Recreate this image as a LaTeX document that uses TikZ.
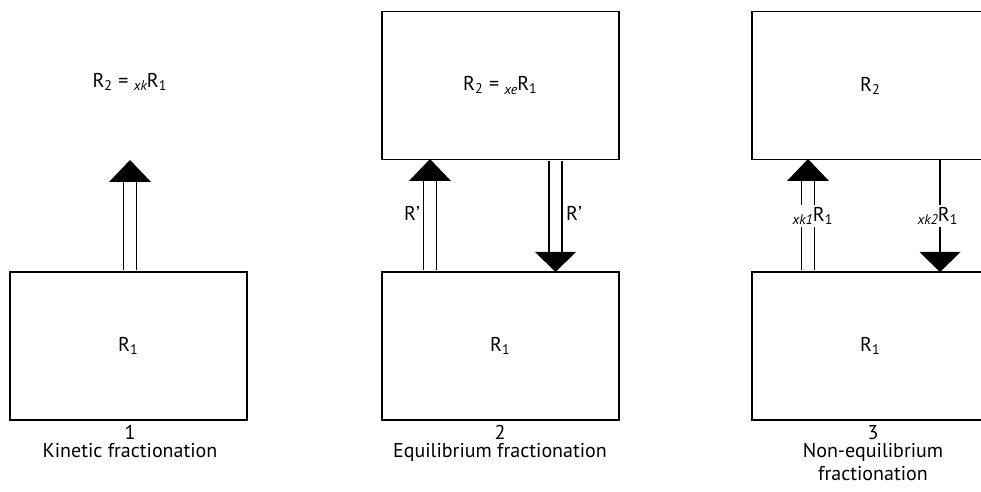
\documentclass[tikz,border=0pt]{standalone}
\usepackage{fontspec}
\setmainfont{PT Sans}
\usepackage{tikz}

% small prefix before a ratio
\newcommand\fpre[1]{\raisebox{-0.35ex}{\scriptsize\itshape #1}}

\begin{document}
\begin{tikzpicture}[x=0.5pt,y=-0.5pt,
  box/.style={draw,line width=0.8pt,minimum width=118.5pt,minimum height=74pt,inner sep=0pt,font=\fontsize{10}{12}\selectfont},
  shaft/.style={double,double distance=5.8pt,line width=0.75pt,shorten <=0.4pt},
  rate/.style={fill=white,inner sep=1pt,font=\fontsize{10}{12}\selectfont},
  numtext/.style={inner sep=0pt,anchor=base,font=\fontsize{10}{12}\selectfont},
  captext/.style={align=center,inner sep=0pt,font=\fontsize{10}{12}\selectfont}]
\useasboundingbox (0,0) rectangle (981,492);
\clip (0,0) rectangle (981,492);

% panel 1
\node[box] (k1) at (128.5,346) {R\textsubscript{1}};
\node[captext] (k2) at (130,82) {R\textsubscript{2} = \fpre{xk}R\textsubscript{1}};
\coordinate (kup) at (130,160);
\draw[shaft,shorten >=10.5pt] (k1.north -| kup) -- (kup);
\fill (kup) -- ++(-21,22) -- ++(42,0) -- cycle;
\node[numtext] (kn) at (130,439) {1};
\node[numtext] (kt) at (130,457) {Kinetic fractionation};

% panel 2
\node[box] (e1) at (500.5,346) {R\textsubscript{1}};
\node[box] (e2) at (500.5,85.5) {R\textsubscript{2} = \fpre{xe}R\textsubscript{1}};
\coordinate (eup) at (430,159);
\coordinate (edown) at (555.5,272);
\draw[shaft,shorten >=10.5pt] (e1.north -| eup) -- (eup);
\fill (eup) -- ++(-21,22) -- ++(42,0) -- cycle;
\draw[shaft,shorten >=10pt] (e2.south -| edown) -- (edown);
\fill (edown) -- ++(-20.5,-20) -- ++(41,0) -- cycle;
\node[captext] (el) at (412,213) {R’};
\node[captext] (er) at (574,213) {R’};
\node[numtext] (en) at (500,439) {2};
\node[numtext] (et) at (500,457) {Equilibrium fractionation};

% panel 3
\node[box] (n1) at (870.5,346) {R\textsubscript{1}};
\node[box] (n2) at (870.5,85.5) {R\textsubscript{2}};
\coordinate (nup) at (808,159);
\coordinate (ndown) at (940,272);
\draw[shaft,shorten >=10.5pt] (n1.north -| nup) -- (nup);
\fill (nup) -- ++(-21,22) -- ++(42,0) -- cycle;
\draw[line width=0.75pt] (n2.south -| ndown) -- (ndown);
\fill (ndown) -- ++(-20.5,-20) -- ++(41,0) -- cycle;
\node[rate] (nl) at (813,216) {\fpre{xk1}R\textsubscript{1}};
\node[rate] (nr) at (938,216) {\fpre{xk2}R\textsubscript{1}};
\node[numtext] (nn) at (873,439) {3};
\node[numtext] (nt) at (873,457) {Non-equilibrium};
\node[numtext] (nt2) at (873,480) {fractionation};
\end{tikzpicture}
\end{document}
